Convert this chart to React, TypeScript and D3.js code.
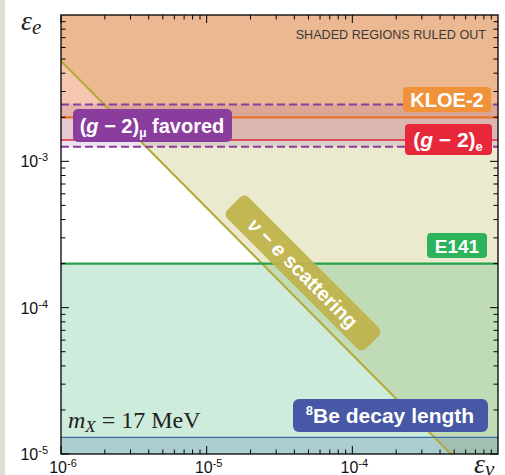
import React from "react";
import * as d3 from "d3";

// ---- data ----
const xDomain = [1e-6, 1e-3];
const yDomain = [1e-5, 1e-2];
const xTickDecades = [-6, -5, -4];
const yTickDecades = [-5, -4, -3];
const xTickLabels = ["-6", "-5", "-4"];
const yTickLabels = ["-5", "-4", "-3"];
const kloe2Bound = 2.0e-3;
const g2eBound = 1.4e-3;
const g2muBand = [1.26e-3, 2.45e-3];
const e141Bound = 2.0e-4;
const be8Bound = 1.3e-5;
// nu-e scattering boundary (eps_nu, eps_e)
const nuELine: [number, number][] = [
  [1e-6, 4.85e-3],
  [4.75e-4, 1e-5],
];

const W = 505;
const H = 475;
const L = 61, R = 498, T = 15, B = 454;

export default function App() {
  const x = d3.scaleLog().domain(xDomain).range([L, R]);
  const y = d3.scaleLog().domain(yDomain).range([B, T]);
  const line = d3
    .line<[number, number]>()
    .x((d) => x(d[0]))
    .y((d) => y(d[1]));

  const nuRegion: [number, number][] = [
    nuELine[0],
    [xDomain[0], yDomain[1]],
    [xDomain[1], yDomain[1]],
    [xDomain[1], yDomain[0]],
    nuELine[1],
  ];

  const minorX: { v: number; major: boolean }[] = [];
  for (let k = -6; k <= -4; k++)
    for (let m = 1; m <= 9; m++) minorX.push({ v: m * Math.pow(10, k), major: m === 1 });
  const minorY: { v: number; major: boolean }[] = [];
  for (let k = -5; k <= -3; k++)
    for (let m = 1; m <= 9; m++) minorY.push({ v: m * Math.pow(10, k), major: m === 1 });

  const band = (lo: number, hi: number) => ({ y: y(hi), height: y(lo) - y(hi) });
  const sans = "'Liberation Sans', Arial, sans-serif";
  const serif = "'Liberation Serif', 'Times New Roman', serif";

  const nuAngle = 45;
  const nuCx = 303, nuCy = 273;

  return (
    <svg width={W} height={H} style={{ position: "absolute", left: 0, top: 0 }} fontFamily={sans}>
      <rect x={0} y={0} width={W} height={H} fill="#fff" />
      <rect x={0} y={0} width={5} height={H} fill="#e2ddd2" />
      <defs>
        <clipPath id="plot">
          <rect x={L} y={T} width={R - L} height={B - T} />
        </clipPath>
      </defs>
      <g clipPath="url(#plot)">
        {/* nu-e region */}
        <path d={line(nuRegion) + "Z"} fill="#bdb860" fillOpacity={0.3} />
        {/* E141 */}
        <rect x={L} {...band(yDomain[0], e141Bound)} width={R - L} fill="#3cb371" fillOpacity={0.25} />
        {/* 8Be */}
        <rect x={L} {...band(yDomain[0], be8Bound)} width={R - L} fill="#3a62a8" fillOpacity={0.22} />
        {/* KLOE-2 */}
        <rect x={L} {...band(kloe2Bound, yDomain[1])} width={R - L} fill="#f08a30" fillOpacity={0.25} />
        {/* (g-2)e */}
        <rect x={L} {...band(g2eBound, yDomain[1])} width={R - L} fill="#e83a30" fillOpacity={0.17} />
        {/* (g-2)mu band */}
        <rect x={L} {...band(g2muBand[0], g2muBand[1])} width={R - L} fill="#8040a0" fillOpacity={0.15} />

        <path d={line(nuELine) || ""} stroke="#b3a936" strokeWidth={2} fill="none" />
        <line x1={L} x2={R} y1={y(e141Bound)} y2={y(e141Bound)} stroke="#27a14c" strokeWidth={2.2} />
        <line x1={L} x2={R} y1={y(be8Bound)} y2={y(be8Bound)} stroke="#3a6ea8" strokeWidth={1.2} />
        <line x1={L} x2={R} y1={y(kloe2Bound)} y2={y(kloe2Bound)} stroke="#e8742a" strokeWidth={2.2} />
        <line x1={L} x2={R} y1={y(g2eBound)} y2={y(g2eBound)} stroke="#e2283a" strokeWidth={1.6} />
        {g2muBand.map((v, i) => (
          <line key={i} x1={L} x2={R} y1={y(v)} y2={y(v)} stroke="#8a3c9c" strokeWidth={2} strokeDasharray="8 4" />
        ))}
      </g>

      {/* ticks */}
      <g stroke="#000" strokeWidth={1}>
        {minorX.map((t, i) => {
          const len = t.major ? 8 : 4.5;
          const px = x(t.v);
          return (
            <g key={"x" + i}>
              <line x1={px} x2={px} y1={B} y2={B - len} />
              <line x1={px} x2={px} y1={T} y2={T + len} />
            </g>
          );
        })}
        {minorY.map((t, i) => {
          const len = t.major ? 8 : 4.5;
          const py = y(t.v);
          return (
            <g key={"y" + i}>
              <line x1={L} x2={L + len} y1={py} y2={py} />
              <line x1={R} x2={R - len} y1={py} y2={py} />
            </g>
          );
        })}
      </g>
      <rect x={L} y={T} width={R - L} height={B - T} fill="none" stroke="#000" strokeWidth={1.3} />

      {/* tick labels */}
      {yTickDecades.map((k, i) => (
        <text key={"yl" + i} x={L - 13} y={y(Math.pow(10, k)) + 6} textAnchor="end" fontSize={16} fill="#111">
          10<tspan dy={-6} fontSize={11}>{yTickLabels[i]}</tspan>
        </text>
      ))}
      {xTickDecades.map((k, i) => (
        <text key={"xl" + i} x={x(Math.pow(10, k)) + 2} y={473} textAnchor="middle" fontSize={16} fill="#111">
          10<tspan dy={-6} fontSize={11}>{xTickLabels[i]}</tspan>
        </text>
      ))}

      {/* axis titles */}
      <text x={21} y={30} fontFamily={serif} fontStyle="italic" fontSize={28} fill="#222">
        ε<tspan dy={4} fontSize={21}>e</tspan>
      </text>
      <text x={474} y={473} fontFamily={serif} fontStyle="italic" fontSize={28} fill="#222">
        ε<tspan dy={3} fontSize={21}>ν</tspan>
      </text>

      <text x={486} y={39} textAnchor="end" fontSize={12.6} fill="#3a3a3a">SHADED REGIONS RULED OUT</text>

      <text x={68} y={428} fontFamily={serif} fontSize={24} fill="#222">
        <tspan fontStyle="italic">m</tspan>
        <tspan fontStyle="italic" fontSize={17} dy={4}>X</tspan>
        <tspan dy={-4}> = 17 MeV</tspan>
      </text>

      {/* label boxes */}
      <g fontWeight="bold" fill="#fff">
        <rect x={403} y={87} width={88} height={25} rx={4} fill="#f0923a" />
        <text x={447} y={107} textAnchor="middle" fontSize={20} fill="#fff">KLOE-2</text>

        <rect x={405} y={124} width={87} height={31} rx={4} fill="#e6283a" />
        <text x={448} y={147} textAnchor="middle" fontSize={21} fill="#fff">
          (<tspan fontStyle="italic">g</tspan> − 2)<tspan fontSize={13} dy={4}>e</tspan>
        </text>

        <rect x={73} y={109} width={159} height={33} rx={5} fill="#8b3d9e" />
        <text x={152} y={133} textAnchor="middle" fontSize={20} fill="#fff">
          (<tspan fontStyle="italic">g</tspan> − 2)<tspan fontSize={12} dy={4}>μ</tspan>
          <tspan dy={-4}> favored</tspan>
        </text>

        <rect x={427} y={233} width={60} height={25} rx={4} fill="#2db35a" />
        <text x={457} y={253} textAnchor="middle" fontSize={19} fill="#fff">E141</text>

        <rect x={293} y={399} width={195} height={33} rx={6} fill="#4658a6" />
        <text x={390} y={423} textAnchor="middle" fontSize={21} fill="#fff">
          <tspan fontSize={13} dy={-8}>8</tspan>
          <tspan dy={8}>Be decay length</tspan>
        </text>

        <g transform={`translate(${nuCx},${nuCy}) rotate(${nuAngle})`}>
          <rect x={-98} y={-15} width={196} height={30} rx={6} fill="#bfb24a" fillOpacity={0.92} />
          <text x={0} y={7} textAnchor="middle" fontSize={20} fill="#fff">
            <tspan fontStyle="italic">ν</tspan> − <tspan fontStyle="italic">e</tspan> scattering
          </text>
        </g>
      </g>
    </svg>
  );
}
